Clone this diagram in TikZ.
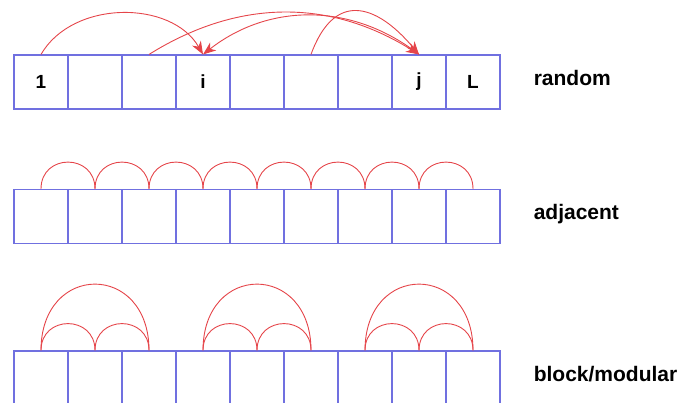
\documentclass[tikz,border=0pt]{standalone}
\usepackage{fontspec}
\setmainfont{Liberation Sans}
\usetikzlibrary{positioning, arrows.meta}
\definecolor{cellblue}{HTML}{7070E0}
\definecolor{linkred}{HTML}{E5454A}

\tikzset{
  cell/.style={draw=cellblue, line width=1.1pt, minimum width=54pt, minimum height=54pt,
               inner sep=0pt, font=\fontsize{19}{22}\selectfont\bfseries},
  link/.style={draw=linkred, line width=0.9pt},
  hop/.style={link, out=90, in=90, looseness=1.7},
  jump/.style={link, -{Stealth[length=13pt, width=10pt, inset=4pt]}},
  rowlabel/.style={font=\fontsize{21}{25}\selectfont\bfseries, inner sep=0pt,
                   text height=1.5ex, text depth=.25ex},
}

\begin{document}
\begin{tikzpicture}[x=1pt, y=1pt]
  \useasboundingbox (0,0) rectangle (682,403);

  % the three rows of nine cells
  \foreach \k/\txt in {1/1, 2/{}, 3/{}, 4/i, 5/{}, 6/{}, 7/{}, 8/j, 9/L}
    \node[cell] (rand\k) at ({54*\k-13}, 321) {\txt};
  \foreach \k in {1,...,9}{
    \node[cell] (adj\k) at ({54*\k-13}, 186.5) {};
    \node[cell] (blk\k) at ({54*\k-13}, 25) {};
  }

  \node[rowlabel, right=33pt of rand9] (lblrand) {random};
  \node[rowlabel, right=33pt of adj9] (lbladj) {adjacent};
  \node[rowlabel, right=33pt of blk9] (lblblk) {block/modular};

  % random links
  \draw[jump] (rand1.north) to[bend left=60] (rand4.north);
  \draw[jump] (rand3.north) to[bend left=32] (rand8.north);
  \draw[jump] (rand8.north) to[bend right=38] (rand4.north);
  \draw[jump] (rand6.north) to[out=70, in=130, looseness=1.6] (rand8.north);

  % adjacent links
  \foreach \k in {1,...,8}{
    \pgfmathtruncatemacro\nxt{\k+1}
    \draw[hop] (adj\k.north) to (adj\nxt.north);
  }

  % block links
  \foreach \ka in {1,4,7}{
    \pgfmathtruncatemacro\kb{\ka+1}
    \pgfmathtruncatemacro\kc{\ka+2}
    \draw[hop] (blk\ka.north) to (blk\kb.north);
    \draw[hop] (blk\kb.north) to (blk\kc.north);
    \draw[hop, looseness=2.1] (blk\ka.north) to (blk\kc.north);
  }
\end{tikzpicture}
\end{document}
